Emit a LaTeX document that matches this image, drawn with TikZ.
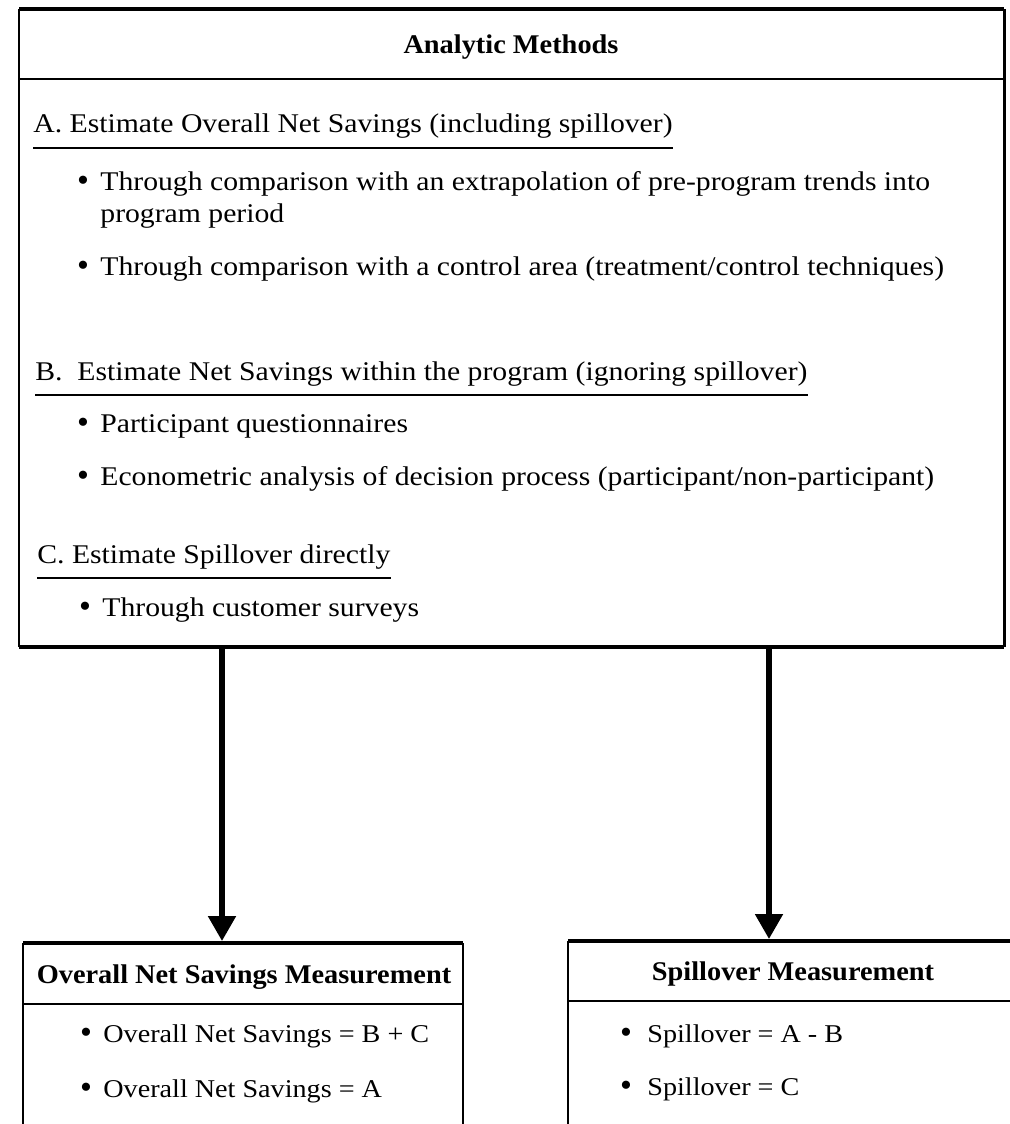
\documentclass[tikz,border=0pt]{standalone}
\usepackage{fontspec}
\setmainfont{Liberation Serif}[FakeStretch=1.1]
\newfontfamily\hdrfont{Liberation Serif Bold}[FakeStretch=1.05]
\newfontfamily\dotfont{Liberation Serif}
\usetikzlibrary{arrows.meta}
\begin{document}
\begin{tikzpicture}[x=0.5pt,y=-0.5pt,
  body/.style={inner sep=0pt, font=\fontsize{13.5}{16}\selectfont},
  txt/.style={body, anchor=base west},
  btxt/.style={inner sep=0pt, anchor=base west, font=\fontsize{12.8}{15}\selectfont},
  hdr/.style={body, anchor=base, font=\fontsize{13.5}{16}\selectfont\hdrfont},
  dot/.style={inner sep=0pt, anchor=base, font=\fontsize{17}{18}\selectfont\dotfont},
  uline/.style={line width=0.6pt},
  thinedge/.style={line width=0.9pt},
  thickedge/.style={line width=2.2pt},
  divider/.style={line width=0.9pt},
  arr/.style={line width=2.6pt, -{Triangle[length=12.5pt,width=13.5pt]}}
]
\useasboundingbox (0,0) rectangle (1009,1124);

% ---------- main box ----------
\coordinate (mTL) at (19,9);
\coordinate (mTR) at (1004,9);
\coordinate (mBL) at (19,647);
\coordinate (mBR) at (1004,647);
\draw[line width=1.8pt] (mTL) -- (mTR);
\draw[thinedge] (mTL) -- (mBL);
\draw[line width=1.5pt] (mTR) -- (mBR);
\draw[thickedge] (mBL) -- (mBR);
\draw[divider] (19,79) -- (1004,79);

\node[hdr] (title) at (511,54) {Analytic Methods};

\node[txt] (hA) at (33,132) {A. Estimate Overall Net Savings (including spillover)};
\draw[uline] ([yshift=-8pt]hA.base west) -- ([yshift=-8pt]hA.base east);
\node[dot] (dA1) at (83,191) {\textbullet};
\node[txt] (tA1) at (100,190) {Through comparison with an extrapolation of pre-program trends into};
\node[txt] (tA1b) at (100,222) {program period};
\node[dot] (dA2) at (83,276) {\textbullet};
\node[txt] (tA2) at (100,275) {Through comparison with a control area (treatment/control techniques)};

\node[txt] (hB) at (35,380) {B.\ \ Estimate Net Savings within the program (ignoring spillover)};
\draw[uline] ([yshift=-7.5pt]hB.base west) -- ([yshift=-7.5pt]hB.base east);
\node[dot] (dB1) at (83,433) {\textbullet};
\node[txt] (tB1) at (100,432) {Participant questionnaires};
\node[dot] (dB2) at (83,486) {\textbullet};
\node[txt] (tB2) at (100,485) {Econometric analysis of decision process (participant/non-participant)};

\node[txt] (hC) at (37,563) {C. Estimate Spillover directly};
\draw[uline] ([yshift=-7.5pt]hC.base west) -- ([yshift=-7.5pt]hC.base east);
\node[dot] (dC1) at (85,617) {\textbullet};
\node[txt] (tC1) at (102,616) {Through customer surveys};

% ---------- bottom left box ----------
\draw[thickedge] (23,943) -- (463,943);
\draw[thinedge] (23,943) -- (23,1130);
\draw[thinedge] (463,943) -- (463,1130);
\draw[divider] (23,1004) -- (463,1004);
\node[hdr] (hL) at (244,983) {Overall Net Savings Measurement};
\node[dot] (dL1) at (86,1043) {\textbullet};
\node[btxt] (tL1) at (103,1042) {Overall Net Savings = B + C};
\node[dot] (dL2) at (86,1098) {\textbullet};
\node[btxt] (tL2) at (103,1097) {Overall Net Savings = A};

% ---------- bottom right box ----------
\draw[thickedge] (568,941) -- (1015,941);
\draw[thinedge] (568,941) -- (568,1130);
\draw[divider] (568,1001) -- (1015,1001);
\node[hdr] (hR) at (793,980) {Spillover Measurement};
\node[dot] (dR1) at (626,1043) {\textbullet};
\node[btxt] (tR1) at (647,1042) {Spillover = A - B};
\node[dot] (dR2) at (626,1096) {\textbullet};
\node[btxt] (tR2) at (647,1095) {Spillover = C};

% ---------- arrows ----------
\coordinate (aLs) at (222,647);
\coordinate (aLe) at (222,941);
\coordinate (aRs) at (769,647);
\coordinate (aRe) at (769,939);
\draw[arr] (aLs) -- (aLe);
\draw[arr] (aRs) -- (aRe);
\end{tikzpicture}
\end{document}
